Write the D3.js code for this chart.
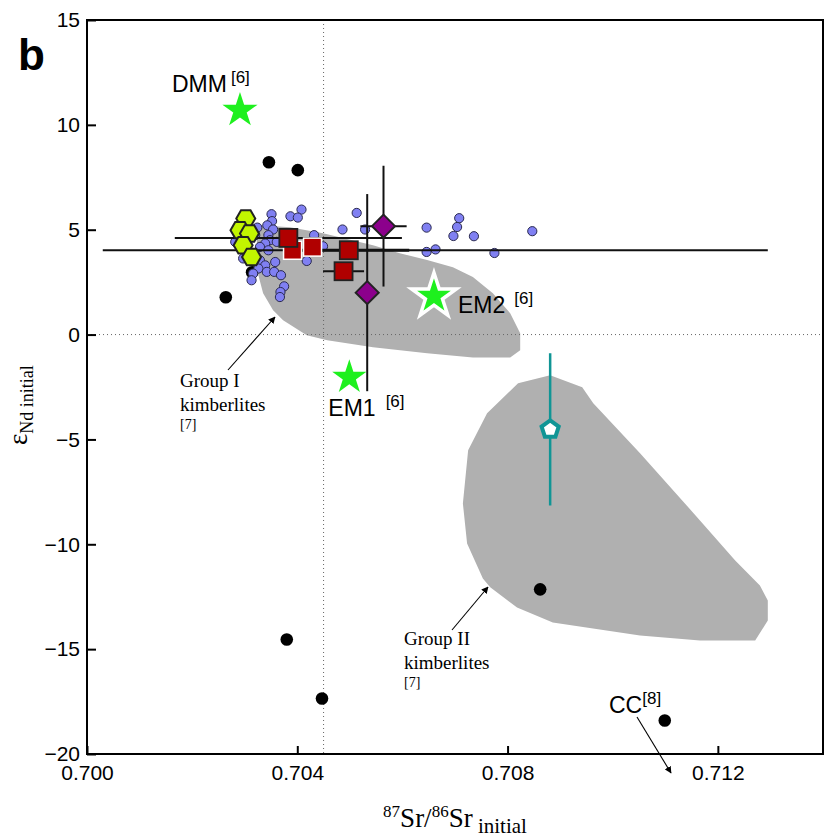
<!DOCTYPE html>
<html>
<head>
<meta charset="utf-8">
<script src="https://cdn.jsdelivr.net/npm/d3@7"></script>
<style>
  html, body { margin: 0; padding: 0; background: #fff; }
  svg { display: block; }
</style>
</head>
<body>
<script>
// ---- data: 87Sr/86Sr initial vs eNd initial ----
const xTicks = [0.700, 0.704, 0.708, 0.712];
const yTicks = [-20, -15, -10, -5, 0, 5, 10, 15];

// Group I kimberlite field [7]
const groupIField = [
  [0.70329, 5.21], [0.70386, 5.12], [0.70449, 4.83], [0.70544, 4.26], [0.70595, 3.88],
  [0.70647, 3.55], [0.70696, 3.21], [0.70734, 2.74], [0.70772, 1.97], [0.70805, 1.02],
  [0.70824, 0.06], [0.70824, -0.75], [0.70805, -1.09], [0.70734, -1.09], [0.70647, -0.89],
  [0.70544, -0.61], [0.70457, -0.27], [0.70418, -0.03], [0.70373, 0.68], [0.70354, 1.16],
  [0.70335, 1.97], [0.70325, 2.93], [0.70323, 4.50]
];
// Group II kimberlite field [7]
const groupIIField = [
  [0.70820, -2.32], [0.70881, -1.94], [0.70942, -2.51], [0.70963, -3.28], [0.71052, -5.66],
  [0.71166, -8.86], [0.71233, -10.77], [0.71280, -11.96], [0.71295, -12.68], [0.71295, -13.63],
  [0.71271, -14.59], [0.71166, -14.59], [0.71052, -14.35], [0.70886, -13.73], [0.70818, -13.01],
  [0.70767, -12.05], [0.70753, -11.63], [0.70723, -9.96], [0.70715, -8.05], [0.70725, -5.52],
  [0.70761, -3.75]
];

// literature kimberlite samples (blue circles)
const blueSamples = [
  [0.70408, 5.96], [0.70387, 5.64], [0.70401, 5.58], [0.70351, 5.74], [0.70352, 5.41],
  [0.70343, 5.21], [0.70354, 5.01], [0.70324, 5.10], [0.70345, 4.74], [0.70348, 4.50],
  [0.70339, 4.34], [0.70361, 4.42], [0.70282, 4.42], [0.70329, 4.18], [0.70345, 4.02],
  [0.70297, 3.63], [0.70329, 3.54], [0.70339, 3.30], [0.70358, 3.46], [0.70326, 3.15],
  [0.70342, 2.99], [0.70356, 2.99], [0.70316, 2.91], [0.70313, 2.59], [0.70369, 2.83],
  [0.70375, 2.30], [0.70368, 2.03], [0.70367, 1.79], [0.70418, 3.51], [0.70432, 4.74],
  [0.70449, 4.21], [0.70486, 5.01], [0.70513, 5.80], [0.70529, 5.01], [0.70646, 5.10],
  [0.70646, 3.94], [0.70663, 4.06], [0.70708, 5.55], [0.70704, 5.13], [0.70697, 4.70],
  [0.70736, 4.69], [0.70847, 4.93], [0.70775, 3.89], [0.70320, 4.74]
];

// black dots
const blackSamples = [
  [0.70346, 8.22], [0.70401, 7.84], [0.70264, 1.78], [0.70314, 2.97],
  [0.70380, -14.54], [0.70447, -17.35], [0.70862, -12.15], [0.71099, -18.40]
];

// yellow-green hexagons
const hexSamples = [
  [0.70302, 5.53], [0.70291, 4.98], [0.70309, 4.82], [0.70297, 4.26], [0.70313, 3.70]
];

// red squares with horizontal error bars
const squaresDark = [
  { sr: 0.70383, nd: 4.61, srErr: 0.00216 },
  { sr: 0.70498, nd: 4.02, srErr: 0.00115 },
  { sr: 0.70488, nd: 3.02, srErr: 0.00039 }
];
const squaresLight = [
  { sr: 0.70391, nd: 4.02 },
  { sr: 0.70429, nd: 4.17 }
];
// long Sr range at eNd = 4.0
const srRange = { nd: 4.02, srMin: 0.7003, srMax: 0.71295 };

// purple diamonds with error bars
const diamonds = [
  { sr: 0.70564, nd: 5.17, srErr: 0.00044, ndErr: 2.88 },
  { sr: 0.70533, nd: 2.00, srErr: 0, ndErr: 4.70 }
];

// teal pentagon
const pentagon = { sr: 0.70881, nd: -4.52, ndErr: 3.63 };

// mantle end-members [6]
const endMembers = [
  { name: "DMM", ref: "[6]", sr: 0.70291, nd: 10.69, r: 18.5, halo: 0 },
  { name: "EM2", ref: "[6]", sr: 0.70660, nd: 1.83, r: 23.5, halo: 3.5 },
  { name: "EM1", ref: "[6]", sr: 0.70499, nd: -2.04, r: 18, halo: 0 }
];

// ---- layout ----
const W = 824, H = 839;
const plotL = 87, plotR = 823, plotT = 20, plotB = 754;

const svg = d3.select("body").append("svg").attr("width", W).attr("height", H);

const x = d3.scaleLinear().domain([0.700, 0.714]).range([plotL, plotR]);
const y = d3.scaleLinear().domain([-20, 15]).range([plotB, plotT]);

const sans = "'Liberation Sans', Arial, Helvetica, sans-serif";
const serif = "'Liberation Serif', 'Times New Roman', serif";

// fields
const line = d3.line().x(d => x(d[0])).y(d => y(d[1])).curve(d3.curveLinearClosed);
svg.append("path").attr("d", line(groupIField)).attr("fill", "#b0b0b0");
svg.append("path").attr("d", line(groupIIField)).attr("fill", "#b0b0b0");

// reference dotted lines
svg.append("line").attr("x1", x(0.700)).attr("x2", x(0.714)).attr("y1", y(0)).attr("y2", y(0))
  .attr("stroke", "#666").attr("stroke-width", 1).attr("stroke-dasharray", "1,3");
svg.append("line").attr("x1", x(0.7045)).attr("x2", x(0.7045)).attr("y1", y(15)).attr("y2", y(-20))
  .attr("stroke", "#666").attr("stroke-width", 1).attr("stroke-dasharray", "1,3");

// black dots
svg.append("g").selectAll("circle").data(blackSamples).join("circle")
  .attr("cx", d => x(d[0])).attr("cy", d => y(d[1])).attr("r", 6.3).attr("fill", "#000");

// blue samples
svg.append("g").selectAll("circle").data(blueSamples).join("circle")
  .attr("cx", d => x(d[0])).attr("cy", d => y(d[1])).attr("r", 4.6)
  .attr("fill", "#8080f2").attr("stroke", "#2a2a50").attr("stroke-width", 1);

// error bars
const eb = svg.append("g").attr("stroke", "#111").attr("stroke-width", 2);
eb.append("line").attr("x1", x(srRange.srMin)).attr("x2", x(srRange.srMax))
  .attr("y1", y(srRange.nd)).attr("y2", y(srRange.nd));
squaresDark.forEach(d => {
  eb.append("line").attr("x1", x(d.sr - d.srErr)).attr("x2", x(d.sr + d.srErr))
    .attr("y1", y(d.nd)).attr("y2", y(d.nd)).attr("stroke-width", d.srErr > 0.001 && d.srErr < 0.002 ? 3 : 2);
});
diamonds.forEach(d => {
  if (d.srErr > 0) eb.append("line").attr("x1", x(d.sr - d.srErr)).attr("x2", x(d.sr + d.srErr))
    .attr("y1", y(d.nd)).attr("y2", y(d.nd));
  eb.append("line").attr("x1", x(d.sr)).attr("x2", x(d.sr))
    .attr("y1", y(d.nd - d.ndErr)).attr("y2", y(d.nd + d.ndErr));
});

// hexagons (flat-topped)
function hexPath(r) {
  const pts = d3.range(6).map(i => [r * Math.cos(i * Math.PI / 3), r * Math.sin(i * Math.PI / 3)]);
  return "M" + pts.map(p => p.join(",")).join("L") + "Z";
}
svg.append("g").selectAll("path").data(hexSamples).join("path")
  .attr("d", hexPath(9.5))
  .attr("transform", d => `translate(${x(d[0])},${y(d[1])})`)
  .attr("fill", "#c2f500").attr("stroke", "#222").attr("stroke-width", 2);

// red squares
const sq = 18;
svg.append("g").selectAll("rect").data(squaresLight).join("rect")
  .attr("x", d => x(d.sr) - sq / 2).attr("y", d => y(d.nd) - sq / 2)
  .attr("width", sq).attr("height", sq)
  .attr("fill", "#b00000").attr("stroke", "#fff").attr("stroke-width", 1.5);
svg.append("g").selectAll("rect").data(squaresDark).join("rect")
  .attr("x", d => x(d.sr) - sq / 2).attr("y", d => y(d.nd) - sq / 2)
  .attr("width", sq).attr("height", sq)
  .attr("fill", "#b00000").attr("stroke", "#222").attr("stroke-width", 1.8);

// diamonds
svg.append("g").selectAll("path").data(diamonds).join("path")
  .attr("d", "M0,-11.5L11.5,0L0,11.5L-11.5,0Z")
  .attr("transform", d => `translate(${x(d.sr)},${y(d.nd)})`)
  .attr("fill", "#8c008c").attr("stroke", "#222").attr("stroke-width", 2);

// stars for end-members
function starPath(R) {
  const r = R * 0.382;
  const pts = d3.range(10).map(i => {
    const a = -Math.PI / 2 + i * Math.PI / 5;
    const rr = i % 2 === 0 ? R : r;
    return [rr * Math.cos(a), rr * Math.sin(a)];
  });
  return "M" + pts.map(p => p.join(",")).join("L") + "Z";
}
svg.append("g").selectAll("path").data(endMembers).join("path")
  .attr("d", d => starPath(d.r))
  .attr("transform", d => `translate(${x(d.sr)},${y(d.nd)})`)
  .attr("fill", "#1ef01e")
  .attr("stroke", d => d.halo > 0 ? "#fff" : "none")
  .attr("stroke-width", d => d.halo)
  .attr("stroke-linejoin", "miter");

// teal pentagon with error bar
svg.append("line").attr("x1", x(pentagon.sr)).attr("x2", x(pentagon.sr))
  .attr("y1", y(pentagon.nd - pentagon.ndErr)).attr("y2", y(pentagon.nd + pentagon.ndErr))
  .attr("stroke", "#109595").attr("stroke-width", 2.5);
const pentPts = d3.range(5).map(i => {
  const a = -Math.PI / 2 + i * 2 * Math.PI / 5;
  return [9 * Math.cos(a), 9 * Math.sin(a)];
});
svg.append("path").attr("d", "M" + pentPts.map(p => p.join(",")).join("L") + "Z")
  .attr("transform", `translate(${x(pentagon.sr)},${y(pentagon.nd)})`)
  .attr("fill", "#fff").attr("stroke", "#109595").attr("stroke-width", 4)
  .attr("stroke-linejoin", "miter");

// end-member labels
const emLabelPos = {
  DMM: { dx: -68, dy: -18, sdx: 4, sdy: -9 },
  EM2: { dx: 24, dy: 17, sdx: 9, sdy: -9 },
  EM1: { dx: -21, dy: 39, sdx: 10, sdy: -9 }
};
endMembers.forEach(d => {
  const p = emLabelPos[d.name];
  const t = svg.append("text").attr("x", x(d.sr) + p.dx).attr("y", y(d.nd) + p.dy)
    .attr("font-family", sans).attr("font-size", 23).attr("fill", "#000");
  t.append("tspan").text(d.name);
  t.append("tspan").attr("dx", p.sdx).attr("dy", p.sdy).attr("font-size", 17).text(d.ref);
});

// CC label
const cc = svg.append("text").attr("x", 609).attr("y", 713)
  .attr("font-family", sans).attr("font-size", 23);
cc.append("tspan").text("CC");
cc.append("tspan").attr("dy", -9).attr("font-size", 17).text("[8]");

// arrows
const defs = svg.append("defs");
defs.append("marker").attr("id", "ah").attr("viewBox", "0 0 10 10")
  .attr("refX", 9).attr("refY", 5).attr("markerWidth", 7).attr("markerHeight", 7)
  .attr("orient", "auto").attr("markerUnits", "userSpaceOnUse")
  .append("path").attr("d", "M0,0L10,5L0,10Z").attr("fill", "#000");
const arrows = [
  [[228, 370], [275, 317]],
  [[452, 630], [488, 587]],
  [[637, 717], [671, 773]]
];
svg.append("g").selectAll("line").data(arrows).join("line")
  .attr("x1", d => d[0][0]).attr("y1", d => d[0][1])
  .attr("x2", d => d[1][0]).attr("y2", d => d[1][1])
  .attr("stroke", "#000").attr("stroke-width", 1.1).attr("marker-end", "url(#ah)");

// field labels
function fieldLabel(x0, y0, name) {
  const g = svg.append("g").attr("font-family", serif).attr("fill", "#000");
  g.append("text").attr("x", x0).attr("y", y0).attr("font-size", 19).text(name);
  g.append("text").attr("x", x0).attr("y", y0 + 24).attr("font-size", 19).text("kimberlites");
  g.append("text").attr("x", x0).attr("y", y0 + 42).attr("font-size", 14).text("[7]");
}
fieldLabel(180, 387, "Group I");
fieldLabel(404, 645, "Group II");

// axes
const fmtX = d3.format(".3f");
const xAxis = svg.append("g").attr("transform", `translate(0,${plotB})`)
  .call(d3.axisBottom(x).tickValues(xTicks).tickFormat(fmtX).tickSize(-8).tickSizeOuter(0).tickPadding(11));
const yAxis = svg.append("g").attr("transform", `translate(${plotL},0)`)
  .call(d3.axisLeft(y).tickValues(yTicks).tickSize(-9).tickSizeOuter(0).tickPadding(7));
[xAxis, yAxis].forEach(a => {
  a.select(".domain").remove();
  a.selectAll("line").attr("stroke", "#000").attr("stroke-width", 2);
  a.selectAll("text").attr("font-family", sans).attr("font-size", 21).attr("fill", "#000");
});

// frame
svg.append("rect").attr("x", plotL).attr("y", plotT).attr("width", plotR - plotL).attr("height", plotB - plotT)
  .attr("fill", "none").attr("stroke", "#000").attr("stroke-width", 2);

// panel letter
svg.append("text").attr("x", 18).attr("y", 70).attr("font-family", sans)
  .attr("font-weight", "bold").attr("font-size", 44).text("b");

// axis titles
const xt = svg.append("text").attr("x", 455).attr("y", 827).attr("text-anchor", "middle")
  .attr("font-family", serif).attr("font-size", 27);
xt.append("tspan").attr("font-size", 17).attr("dy", -10).text("87");
xt.append("tspan").attr("dy", 10).text("Sr/");
xt.append("tspan").attr("font-size", 17).attr("dy", -10).text("86");
xt.append("tspan").attr("dy", 10).text("Sr");
xt.append("tspan").attr("font-size", 21).attr("dy", 6).text(" initial");

const yt = svg.append("text").attr("transform", "translate(27,445) rotate(-90)")
  .attr("font-family", serif).attr("font-size", 27);
yt.append("tspan").text("ε");
yt.append("tspan").attr("font-size", 18).attr("dy", 6).text("Nd initial");
</script>
</body>
</html>
